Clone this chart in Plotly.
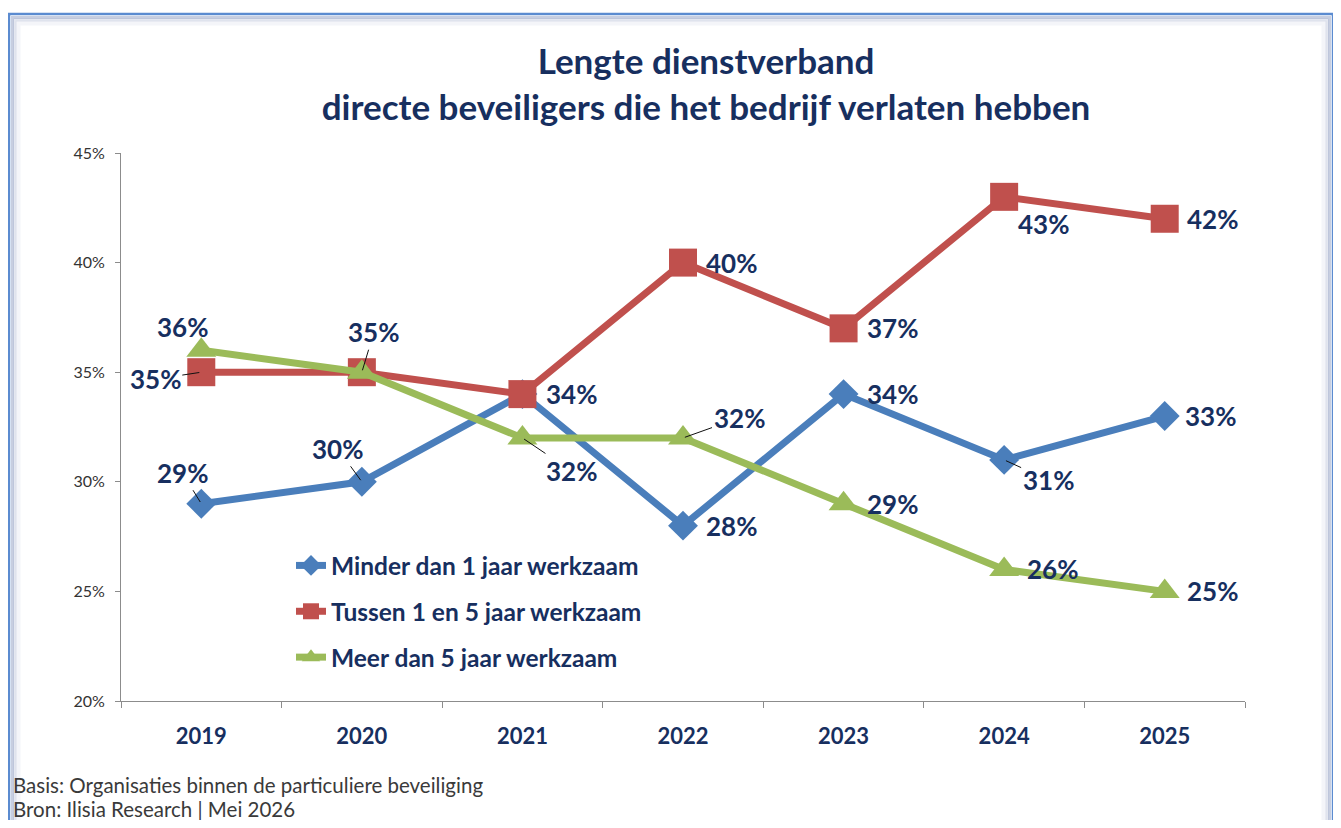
import plotly.graph_objects as go

# ---------------- data ----------------
years = ["2019", "2020", "2021", "2022", "2023", "2024", "2025"]
minder_1_jaar = [29, 30, 34, 28, 34, 31, 33]
tussen_1_5_jaar = [35, 35, 34, 40, 37, 43, 42]
meer_5_jaar = [36, 35, 32, 32, 29, 26, 25]
series_names = ["Minder dan 1 jaar werkzaam",
                "Tussen 1 en 5 jaar werkzaam",
                "Meer dan 5 jaar werkzaam"]
y_tick_values = [20, 25, 30, 35, 40, 45]

title_lines = ["Lengte dienstverband",
               "directe beveiligers die het bedrijf verlaten hebben"]
footer_lines = ["Basis: Organisaties binnen de particuliere beveiliging",
                "Bron: Ilisia Research | Mei 2026"]

# ---------------- layout geometry / style ----------------
OFF = 8                      # page body margin
W, H = 1341 - 2 * OFF, 828 - 2 * OFF
# plot area in screen pixels: x 121..1245, y 153..701
SL, SR, ST, SB = 121, 1245, 153, 701
ML, MT = SL - OFF, ST - OFF
MR, MB = W - (SR - OFF), H - (SB - OFF)
PW, PH = SR - SL, SB - ST

def px_x(sx):
    return (sx - SL) / PW

def px_y(sy):
    return (SB - sy) / PH

NAVY = "#172F5F"
BLUE = "#4A7EBB"
RED = "#C0504D"
GREEN = "#9BBB59"
FONT = "Lato"

# label offsets in pixels (dx, dy down, leader line); None = no label
label_offsets = {
    0: [(-19, -31, True), (-24, -33, True), (49, 0, False), (48, 0, False),
        (49, 0, False), (44, 20, True), (46, 0, False)],
    1: [(-46, 7, True), None, None, (48, 0, False), (49, 0, False),
        (39, 27, False), (48, 0, False)],
    2: [(-19, -23, False), (12, -40, True), (49, 33, True), (56, -20, True),
        (49, 0, False), (48, 0, False), (48, 0, False)],
}

series = [minder_1_jaar, tussen_1_5_jaar, meer_5_jaar]
colors = [BLUE, RED, GREEN]
symbols = ["diamond", "square", "triangle-up"]
sizes = [23, 28, 26]

fig = go.Figure()
for i, (vals, name) in enumerate(zip(series, series_names)):
    fig.add_trace(go.Scatter(
        x=years, y=[v / 100 for v in vals], name=name,
        mode="lines+markers",
        line=dict(color=colors[i], width=7),
        marker=dict(symbol=symbols[i], size=sizes[i], color=colors[i],
                    line=dict(width=0)),
        legendgroup=f"g{i}",
        hovertemplate="%{x}: %{y:.0%}<extra>" + name + "</extra>",
    ))

annotations = []
for i, vals in enumerate(series):
    for j, v in enumerate(vals):
        off = label_offsets[i][j]
        if off is None:
            continue
        dx, dy, leader = off
        base = dict(x=j, y=v / 100, xref="x", yref="y",
                    text=f"{v}%",
                    font=dict(family=FONT, size=26, color=NAVY, weight="bold"))
        if leader:
            base.update(showarrow=True, ax=dx, ay=dy, arrowhead=0,
                        arrowwidth=1, arrowcolor="#111111", standoff=2)
        else:
            base.update(showarrow=False, xshift=dx, yshift=-dy)
        annotations.append(base)

# footer
for k, line in enumerate(footer_lines):
    annotations.append(dict(
        x=px_x(11), y=px_y(785 + 24 * k), xref="paper", yref="paper",
        xanchor="left", yanchor="middle", showarrow=False, text=line,
        font=dict(family=FONT, size=20.5, color="#3A3A3A")))

# frame with inner shadow
shapes = []
fl, fr, ft, fb = 9, 1333, 14, 860
shadow = [(9, 5, "rgba(150,160,195,0.10)"),
          (6, 3, "rgba(120,135,180,0.20)"),
          (3.5, 3, "rgba(95,115,165,0.35)")]
for inset, w, c in shadow:
    shapes.append(dict(type="rect", xref="paper", yref="paper",
                       x0=px_x(fl + inset), x1=px_x(fr - inset),
                       y0=px_y(fb), y1=px_y(ft + inset),
                       line=dict(color=c, width=w), layer="above"))
shapes.append(dict(type="rect", xref="paper", yref="paper",
                   x0=px_x(fl), x1=px_x(fr), y0=px_y(fb), y1=px_y(ft),
                   line=dict(color="#5B8BD0", width=2.5), layer="above"))

fig.update_layout(
    width=W, height=H,
    margin=dict(l=ML, r=MR, t=MT, b=MB, autoexpand=False),
    paper_bgcolor="white", plot_bgcolor="white",
    title=dict(text="<br>".join(title_lines), x=(706 - OFF) / W,
               xref="container", xanchor="center",
               y=1 - (74 - OFF) / H, yref="container", yanchor="middle",
               font=dict(family=FONT, size=35, color=NAVY, weight="bold")),
    showlegend=True,
    legend=dict(x=px_x(291), y=px_y(543), xanchor="left", yanchor="top",
                bgcolor="rgba(0,0,0,0)", tracegroupgap=11,
                font=dict(family=FONT, size=24.5, color=NAVY, weight="bold"),
                traceorder="grouped"),
    annotations=annotations,
    shapes=shapes,
    xaxis=dict(type="category", range=[-0.5, 6.5], tickson="boundaries",
               ticks="outside", ticklen=6, tickcolor="#8C8C8C",
               showline=True, linecolor="#8C8C8C", linewidth=1,
               showgrid=False, zeroline=False, ticklabelstandoff=16,
               tickfont=dict(family=FONT, size=22, color=NAVY, weight="bold")),
    yaxis=dict(range=[0.20, 0.45], tickvals=[t / 100 for t in y_tick_values],
               ticktext=[f"{t}%" for t in y_tick_values],
               ticks="outside", ticklen=5, tickcolor="#8C8C8C",
               showline=True, linecolor="#8C8C8C", linewidth=1,
               showgrid=False, zeroline=False, ticklabelstandoff=7,
               tickfont=dict(family=FONT, size=16, color="#333333")),
)

fig.write_html("out.html")
